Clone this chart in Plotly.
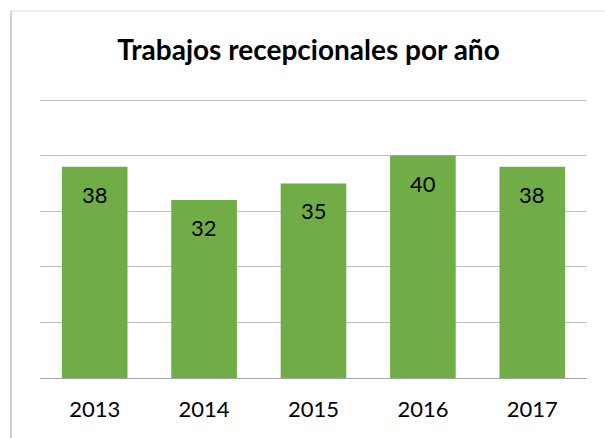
import plotly.graph_objects as go

years = ["2013", "2014", "2015", "2016", "2017"]
values = [38, 32, 35, 40, 38]
title_text = "Trabajos recepcionales por año"

W, H = 605, 438
ml, mr, mt, mb = 40, 18, 98, 60
pw, ph = W - ml - mr, H - mt - mb
ytop = 50 * ph / 278.0

fig = go.Figure()
fig.add_trace(go.Bar(x=years, y=values, marker=dict(color="#70AD47", line=dict(width=0)),
                     hoverinfo="skip"))

# data labels (category index positions on the category axis)
for i, v in enumerate(values):
    fig.add_annotation(x=i, y=v, xref="x", yref="y", text=str(v), showarrow=False,
                       yanchor="top", yshift=-12,
                       font=dict(family="Lato", size=22, color="#000000"))

def px_x(p):
    return (p - ml) / pw

def px_y(p):
    return (H - mb - p) / ph

fig.add_shape(type="line", xref="paper", yref="paper", x0=px_x(11), x1=px_x(11),
              y0=px_y(11), y1=px_y(440), line=dict(color="#a6a6a6", width=1))
fig.add_shape(type="line", xref="paper", yref="paper", x0=px_x(11), x1=px_x(610),
              y0=px_y(11), y1=px_y(11), line=dict(color="#d9d9d9", width=1))

fig.update_layout(
    width=W, height=H,
    margin=dict(l=ml, r=mr, t=mt, b=mb),
    paper_bgcolor="white", plot_bgcolor="white",
    bargap=0.4,
    showlegend=False,
    title=dict(text="<b>" + title_text + "</b>", x=0.51, xanchor="center",
               y=1 - 50 / H, yanchor="middle",
               font=dict(family="Lato", size=28, color="#000000")),
    xaxis=dict(type="category", range=[-0.5, len(years) - 0.5], showgrid=False, showline=False,
               ticks="outside", ticklen=12, tickcolor="rgba(0,0,0,0)",
               tickfont=dict(family="Lato", size=22, color="#000000")),
    yaxis=dict(range=[0, ytop], tickvals=[10, 20, 30, 40, 50], showgrid=True,
               gridcolor="#bfbfbf", gridwidth=1,
               showticklabels=False, zeroline=True, zerolinecolor="#a6a6a6", zerolinewidth=1,
               showline=False),
)

fig.write_html("out.html")
